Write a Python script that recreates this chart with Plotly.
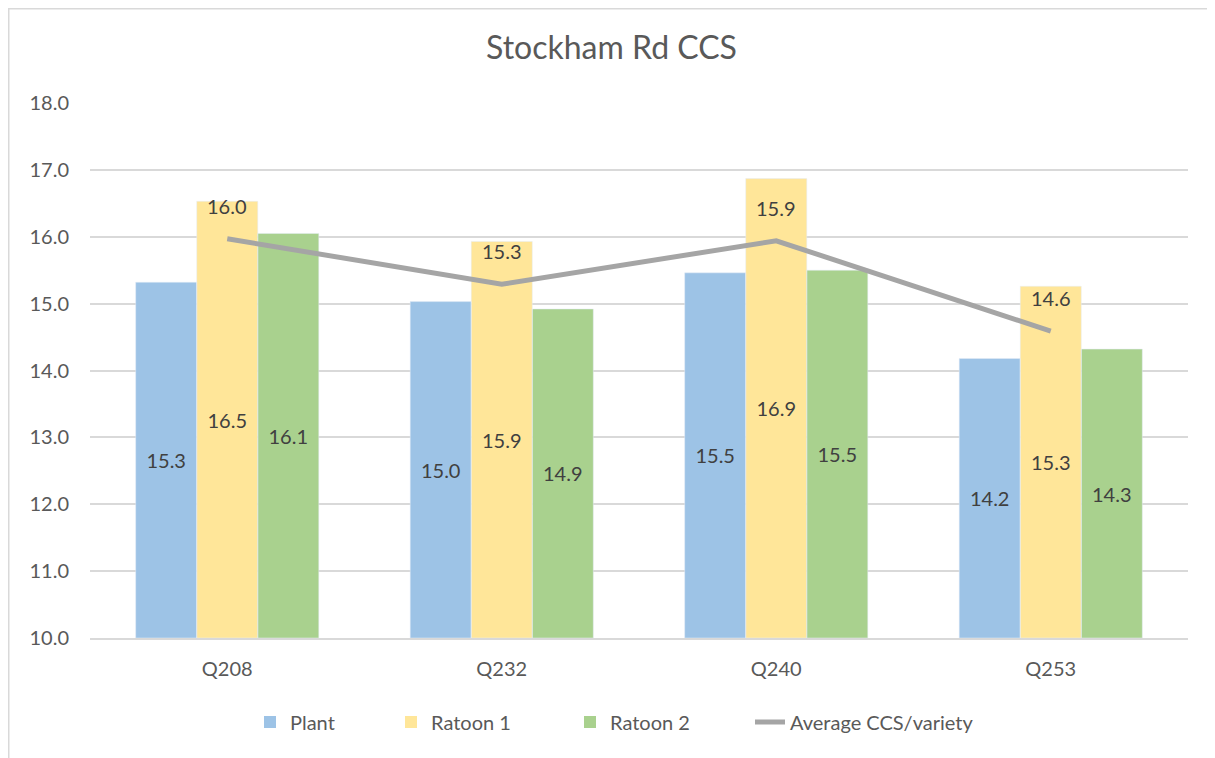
import plotly.graph_objects as go

categories = ["Q208", "Q232", "Q240", "Q253"]
plant = [15.32, 15.03, 15.46, 14.18]
ratoon1 = [16.53, 15.93, 16.87, 15.26]
ratoon2 = [16.05, 14.92, 15.50, 14.32]
average = [15.97, 15.29, 15.94, 14.59]
y_min, y_max = 10, 18

FONT = "Lato, Carlito, 'Liberation Sans', sans-serif"
TXT = "#404040"
GREY = "#595959"

# page body adds an 8px offset; figure is sized to fill the remaining window
OFF = 8
W, H = 1215 - OFF, 758 - OFF
ML, MR, MT, MB = 90 - OFF, 27, 103 - OFF, 120
PW, PH = W - ML - MR, H - MT - MB

series = [("Plant", plant, "#9DC3E6"),
          ("Ratoon 1", ratoon1, "#FFE699"),
          ("Ratoon 2", ratoon2, "#A9D18E")]
legend_names = ["legend", "legend2", "legend3", "legend4"]

fig = go.Figure()
for i, (name, vals, col) in enumerate(series):
    fig.add_trace(go.Bar(
        x=categories, y=vals, name=name, marker_color=col, marker_line_width=0,
        offsetgroup=str(i), legend=legend_names[i], hoverinfo="name+y",
    ))

fig.add_trace(go.Scatter(
    x=categories, y=average, name="Average CCS/variety", mode="lines",
    line=dict(color="#A5A5A5", width=5), legend=legend_names[3],
))

# bar value labels centred in the visible part of each bar
for i, (name, vals, col) in enumerate(series):
    fig.add_trace(go.Bar(
        x=categories, y=[(v - y_min) for v in vals], base=y_min,
        offsetgroup=str(i), marker_color="rgba(0,0,0,0)", showlegend=False,
        text=[f"{v:.1f}" for v in vals], textposition="inside",
        insidetextanchor="middle", constraintext="none", hoverinfo="skip",
        textfont=dict(size=20, color=TXT, family=FONT),
    ))

for c, v in zip(categories, average):
    fig.add_annotation(x=c, y=v, text=f"{v:.1f}", showarrow=False, yshift=33,
                       font=dict(size=20, color=TXT, family=FONT))

leg_y = -(722 - OFF - (H - MB)) / PH
leg_x_px = [250, 391, 570, 750]
legends = {}
for ln, px in zip(legend_names, leg_x_px):
    legends[ln] = dict(orientation="h", x=(px - OFF - ML) / PW, xanchor="left",
                       y=leg_y, yanchor="middle", bgcolor="rgba(0,0,0,0)",
                       font=dict(size=20, color=GREY, family=FONT),
                       itemwidth=30)

fig.update_layout(
    width=W, height=H,
    margin=dict(l=ML, r=MR, t=MT, b=MB),
    paper_bgcolor="white", plot_bgcolor="white",
    barmode="group", bargap=0.333, bargroupgap=0,
    font=dict(family=FONT, color=GREY, size=20),
    title=dict(text="Stockham Rd CCS", x=0.5, xanchor="center",
               y=1 - (48 - OFF) / H, yanchor="middle",
               font=dict(size=32, color=GREY, family=FONT)),
    showlegend=True,
    **legends,
)
fig.update_yaxes(range=[y_min, y_max], dtick=1, tickformat=".1f",
                 showgrid=True, gridcolor="#D9D9D9", gridwidth=1.5,
                 zeroline=False, showline=False, ticks="",
                 ticklabelstandoff=20,
                 tickfont=dict(size=20, color=GREY, family=FONT))
fig.update_xaxes(showline=True, linecolor="#D9D9D9", linewidth=1.5,
                 ticks="", ticklabelstandoff=12,
                 tickfont=dict(size=20, color=GREY, family=FONT))

# chart frame (left/top edges visible in reference)
fig.add_shape(type="rect", xref="paper", yref="paper",
              x0=(0.75 - ML) / PW, x1=(W + 20 - ML) / PW,
              y0=-(H + 20 - (H - MB)) / PH, y1=((H - MB) - 0.75) / PH,
              line=dict(color="#D9D9D9", width=1.5), layer="below")

fig.write_html("out.html")
